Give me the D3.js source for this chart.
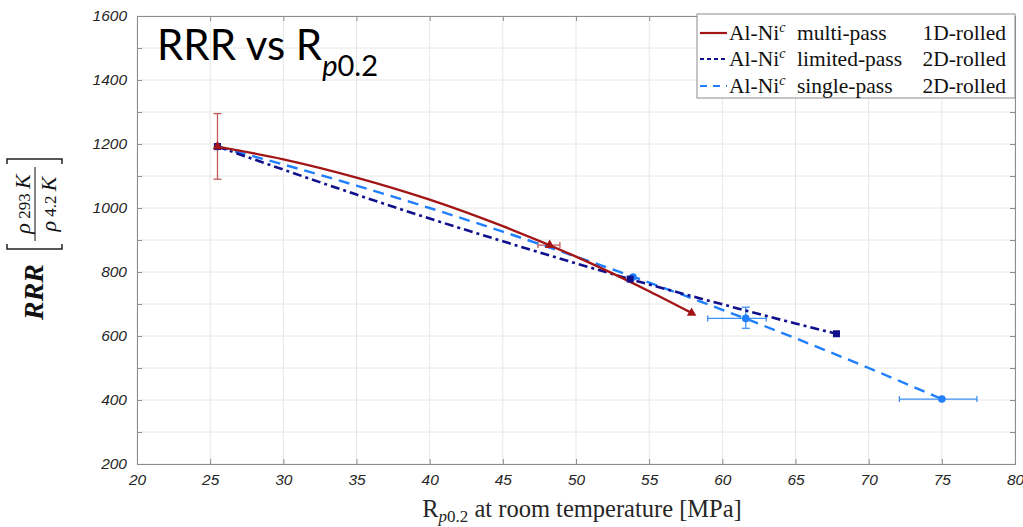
<!DOCTYPE html>
<html><head><meta charset="utf-8">
<script src="https://cdn.jsdelivr.net/npm/d3@7"></script>
<style>html,body{margin:0;padding:0;background:#fff;}svg{display:block;}</style>
</head><body>
<svg id="chart" width="1023" height="527"></svg>
<script>
// ---- data ----
const xTicks = [20,25,30,35,40,45,50,55,60,65,70,75,80];
const yTicks = [200,400,600,800,1000,1200,1400,1600];
const yMinor = [200,300,400,500,600,700,800,900,1000,1100,1200,1300,1400,1500,1600];

const multiX = [25.5, 48.2, 57.9];
const multiY = [1192, 884, 672];
const multiCurveX = [25.5, 30, 35, 40, 45, 50, 55, 57.9];
const multiCurveY = [1192, 1152, 1095, 1026, 943, 848, 740, 672];
const multiErrY = [{x:25.5, lo:1090, hi:1295}];
const multiErrX = [{y:884, lo:47.4, hi:48.9}];

// limited-pass 2D-rolled
const limX = [25.5, 53.7, 67.8];
const limY = [1192, 778, 607];
const limCurveX = [25.5, 30, 35, 40, 45, 50, 55, 60, 65, 67.8];
const limCurveY = [1192, 1120, 1042, 967, 896, 827, 761, 699, 639, 607];

// single-pass 2D-rolled
const singX = [25.5, 53.9, 61.6, 75];
const singY = [1192, 784, 655, 403];
const singCurveX = [25.5, 30, 35, 40, 45, 50, 55, 60, 65, 70, 75];
const singCurveY = [1192, 1136, 1070, 1000, 926, 848, 767, 682, 593, 500, 403];
const singErrY = [{x:61.6, lo:624, hi:690}];
const singErrX = [{y:655, lo:59.0, hi:63.0}, {y:403, lo:72.1, hi:77.4}];

const seriesNames = ["multi-pass", "limited-pass", "single-pass"];
const seriesRolled = ["1D-rolled", "2D-rolled", "2D-rolled"];

// ---- drawing ----
const svg = d3.select("#chart");
const L = 137, R = 1015, T = 16, B = 464;
const x = d3.scaleLinear().domain([20, 80]).range([L, R]);
const y = d3.scaleLinear().domain([200, 1600]).range([B, T]);

const cRed = "#a31515", cNavy = "#10108c", cBlue = "#1f7fff";
const cRedErr = "#c25a5a", cBlueErr = "#3d8ff5";

// grid
const grid = svg.append("g");
grid.selectAll("line.gx").data(xTicks).join("line")
  .attr("x1", d => x(d)).attr("x2", d => x(d)).attr("y1", T).attr("y2", B)
  .attr("stroke", "#e6e6e6").attr("stroke-width", 1);
grid.selectAll("line.gy").data(yMinor).join("line")
  .attr("x1", L).attr("x2", R).attr("y1", d => y(d)).attr("y2", d => y(d))
  .attr("stroke", "#e6e6e6").attr("stroke-width", 1);

// axes
const tickFont = "'Liberation Sans', Arial, sans-serif";
const axB = svg.append("g").attr("transform", `translate(0,${B})`)
  .call(d3.axisBottom(x).tickValues(xTicks).tickSize(-5).tickPadding(10).tickFormat(d3.format("d")));
const axT = svg.append("g").attr("transform", `translate(0,${T})`)
  .call(d3.axisTop(x).tickValues(xTicks).tickSize(-5).tickFormat(""));
const axL = svg.append("g").attr("transform", `translate(${L},0)`)
  .call(d3.axisLeft(y).tickValues(yMinor).tickSize(-5).tickPadding(10)
    .tickFormat(d => yTicks.includes(d) ? d : ""));
const axR = svg.append("g").attr("transform", `translate(${R},0)`)
  .call(d3.axisRight(y).tickValues(yMinor).tickSize(-5).tickFormat(""));
[axB, axT, axL, axR].forEach(a => {
  a.select(".domain").attr("stroke", "#8c8c8c");
  a.selectAll(".tick line").attr("stroke", "#8c8c8c");
  a.selectAll(".tick text").attr("font-family", tickFont).attr("font-style", "italic")
    .attr("font-size", 15.5).attr("fill", "#262626");
});

// lines
const line = d3.line().x(d => x(d[0])).y(d => y(d[1])).curve(d3.curveMonotoneX);
const zip = (a, b) => a.map((v, i) => [v, b[i]]);
const plot = svg.append("g");

// error bars
function errY(data, col) {
  data.forEach(e => {
    plot.append("line").attr("x1", x(e.x)).attr("x2", x(e.x)).attr("y1", y(e.lo)).attr("y2", y(e.hi))
      .attr("stroke", col).attr("stroke-width", 1.3);
    [e.lo, e.hi].forEach(v => plot.append("line").attr("x1", x(e.x) - 4).attr("x2", x(e.x) + 4)
      .attr("y1", y(v)).attr("y2", y(v)).attr("stroke", col).attr("stroke-width", 1.3));
  });
}
function errX(data, col) {
  data.forEach(e => {
    plot.append("line").attr("y1", y(e.y)).attr("y2", y(e.y)).attr("x1", x(e.lo)).attr("x2", x(e.hi))
      .attr("stroke", col).attr("stroke-width", 1.3);
    [e.lo, e.hi].forEach(v => plot.append("line").attr("y1", y(e.y) - 3).attr("y2", y(e.y) + 3)
      .attr("x1", x(v)).attr("x2", x(v)).attr("stroke", col).attr("stroke-width", 1.3));
  });
}
errY(multiErrY, cRedErr);
errX(multiErrX, cRedErr);
errY(singErrY, cBlueErr);
errX(singErrX, cBlueErr);

plot.append("path").attr("d", line(zip(singCurveX, singCurveY))).attr("fill", "none")
  .attr("stroke", cBlue).attr("stroke-width", 2.4).attr("stroke-dasharray", "11,7");
plot.append("path").attr("d", line(zip(limCurveX, limCurveY))).attr("fill", "none")
  .attr("stroke", cNavy).attr("stroke-width", 2.6).attr("stroke-dasharray", "9,4,3,4");
plot.append("path").attr("d", line(zip(multiCurveX, multiCurveY))).attr("fill", "none")
  .attr("stroke", cRed).attr("stroke-width", 2.4);

// markers
plot.selectAll("circle.s").data(zip(singX, singY)).join("circle")
  .attr("cx", d => x(d[0])).attr("cy", d => y(d[1])).attr("r", 3.8).attr("fill", cBlue);
plot.selectAll("rect.l").data(zip(limX, limY)).join("rect")
  .attr("x", d => x(d[0]) - 3.5).attr("y", d => y(d[1]) - 3.5).attr("width", 7).attr("height", 7).attr("fill", cNavy);
const tri = d3.symbol().type(d3.symbolTriangle).size(40);
plot.selectAll("path.m").data(zip(multiX, multiY)).join("path")
  .attr("transform", d => `translate(${x(d[0])},${y(d[1])})`).attr("d", tri).attr("fill", cRed);

// legend
const lg = svg.append("g");
lg.append("rect").attr("x", 697).attr("y", 14).attr("width", 318).attr("height", 84)
  .attr("fill", "#fff").attr("stroke", "#8c8c8c").attr("stroke-width", 1);
const serif = "'Liberation Serif', 'DejaVu Serif', serif";
const legCols = [cRed, cNavy, cBlue];
const legDash = [null, "4,3", "7,6"];
const rowY = [33, 59, 86];
seriesNames.forEach((name, i) => {
  const ly = rowY[i];
  lg.append("line").attr("x1", 700).attr("x2", 727).attr("y1", ly).attr("y2", ly)
    .attr("stroke", legCols[i]).attr("stroke-width", 2.2).attr("stroke-dasharray", legDash[i]);
  const t = lg.append("text").attr("x", 729).attr("y", ly + 6.5).attr("font-family", serif)
    .attr("font-size", 21.5).attr("fill", "#111");
  t.append("tspan").text("Al-Ni");
  t.append("tspan").text("c").attr("font-style", "italic").attr("font-size", 14).attr("dy", -8);
  lg.append("text").attr("x", 797).attr("y", ly + 6.5).attr("font-family", serif)
    .attr("font-size", 21.5).attr("fill", "#111").text(name);
  lg.append("text").attr("x", 1006).attr("y", ly + 6.5).attr("text-anchor", "end").attr("font-family", serif)
    .attr("font-size", 21.5).attr("fill", "#111").text(seriesRolled[i]);
});

// title
const title = svg.append("text").attr("x", 157).attr("y", 60)
  .attr("font-family", "Lato, 'Open Sans', sans-serif").attr("font-size", 42).attr("fill", "#000");
title.append("tspan").text("RRR vs R");
title.append("tspan").text("p").attr("font-style", "italic").attr("font-size", 29).attr("dy", 16);
title.append("tspan").text("0.2").attr("font-size", 29);

// x label
const xl = svg.append("text").attr("x", 582).attr("y", 517).attr("text-anchor", "middle")
  .attr("font-family", serif).attr("font-size", 24.5).attr("fill", "#262626");
xl.append("tspan").text("R");
xl.append("tspan").text("p").attr("font-style", "italic").attr("font-size", 17).attr("dy", 5);
xl.append("tspan").text("0.2").attr("font-size", 17);
xl.append("tspan").text(" at room temperature [MPa]").attr("dy", -5);

// y label (rotated)
const yl = svg.append("g").attr("transform", "translate(0,240) rotate(-90)");
yl.append("text").attr("x", -52).attr("y", 43).attr("text-anchor", "middle")
  .attr("font-family", serif).attr("font-weight", "bold").attr("font-style", "italic")
  .attr("font-size", 28).attr("fill", "#111").text("RRR");
const br = "#222";
yl.append("path").attr("d", "M-4,7 L-9,7 L-9,62 L-4,62").attr("fill", "none").attr("stroke", br).attr("stroke-width", 1.5);
yl.append("path").attr("d", "M76,7 L81,7 L81,62 L76,62").attr("fill", "none").attr("stroke", br).attr("stroke-width", 1.5);
yl.append("line").attr("x1", -1).attr("x2", 73).attr("y1", 35).attr("y2", 35).attr("stroke", br).attr("stroke-width", 1.1);
const num = yl.append("text").attr("x", 36).attr("y", 30).attr("text-anchor", "middle")
  .attr("font-family", serif).attr("font-size", 22).attr("fill", "#111");
num.append("tspan").text("ρ").attr("font-style", "italic");
num.append("tspan").text(" 293 ").attr("font-size", 17);
num.append("tspan").text("K").attr("font-style", "italic");
const den = yl.append("text").attr("x", 36).attr("y", 56).attr("text-anchor", "middle")
  .attr("font-family", serif).attr("font-size", 22).attr("fill", "#111");
den.append("tspan").text("ρ").attr("font-style", "italic");
den.append("tspan").text(" 4.2 ").attr("font-size", 17);
den.append("tspan").text("K").attr("font-style", "italic");
</script>
</body></html>
